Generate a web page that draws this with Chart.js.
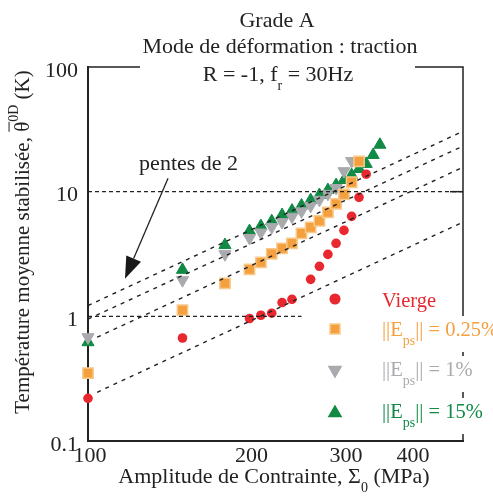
<!DOCTYPE html>
<html><head><meta charset="utf-8">
<script src="https://cdn.jsdelivr.net/npm/chart.js"></script>
<style>html,body{margin:0;padding:0;background:#fff;} #wrap{width:493px;height:503px;position:relative;}</style>
</head><body><div id="wrap"><canvas id="c" width="493" height="503"></canvas></div>
<script>
// ---- data ----
const vierge_x = [100,150,200,210,220,230,240,260,270,280,290,300,310,320,330];
const vierge_y = [0.22,0.67,0.96,1.02,1.06,1.29,1.37,1.98,2.52,3.14,3.85,4.89,6.34,9.0,13.8];
const e025_x = [100,150,180,200,210,220,230,240,250,260,270,280,290,300,310,320];
const e025_y = [0.35,1.12,1.84,2.38,2.71,3.17,3.51,3.85,4.63,5.17,5.83,6.82,7.99,9.51,11.9,17.5];
const e1_x = [100,150,180,200,210,220,230,240,250,260,270,280,290,300,310];
const e1_y = [0.68,1.95,3.15,4.25,4.7,5.2,5.7,6.3,6.95,7.7,8.6,9.6,10.7,14.6,17.6];
const e15_x = [100,150,180,200,210,220,230,240,250,260,270,280,290,300,310,320,330,340,350];
const e15_y = [0.62,2.36,3.73,4.83,5.3,5.8,6.5,7.05,7.75,8.55,9.4,10.3,11.3,12.4,13.6,15.2,16.7,19.7,23.8];
// slope-2 guide lines, endpoints [x, y]
const guideA = [[100,1.22],[500,30.5]];
const guideB = [[100,0.95],[500,23.2]];
const guideC = [[104,0.68],[500,15.7]];
const guideD = [[104,0.246],[500,5.7]];
const hLine10 = [[100,10],[500,10]];
const hLine1 = [[100,1],[250,1]];
const xTicks = [100,200,300,400];
const yTicks = [0.1,1,10,100];
const xRange = [100,500];
const yRange = [0.1,100];
// annotation anchors in data coords
const noteText = 'pentes de 2';
const notePos = [154,14.8];
const arrowFrom = [141,12.8];
const arrowTo = [117.2,2.0];

const RED='#e8282e', ORANGE='#f4a03f', GREY='#a8aaad', GREEN='#118a45';
const SERIF='"Liberation Serif","DejaVu Serif",serif';

function pts(xs, ys){ return xs.map((x,i)=>({x:x,y:ys[i]})); }
function seg(a){ return a.map(p=>({x:p[0],y:p[1]})); }

function guide(a, dash, w){
  return {type:'line', data:seg(a), borderColor:'#222', borderWidth:w||1.4, borderDash:dash||[4,5],
          pointRadius:0, showLine:true, fill:false, tension:0};
}

function drawRich(ctx, parts, x, y, size, align, color){
  let total=0;
  const ms = parts.map(p=>{
    const fs = p.sub||p.sup ? 14 : size;
    ctx.font = fs+'px '+SERIF;
    const w = ctx.measureText(p.t).width;
    total += w; return {p:p, fs:fs, w:w};
  });
  let cx = align==='center' ? x-total/2 : (align==='right'? x-total : x);
  ctx.fillStyle=color; ctx.strokeStyle=color;
  ctx.textAlign='left'; ctx.textBaseline='alphabetic';
  ms.forEach(m=>{
    ctx.font = m.fs+'px '+SERIF;
    const dy = m.p.sub ? 9 : (m.p.sup ? -11 : 0);
    ctx.fillText(m.p.t, cx, y+dy);
    if(m.p.over){ ctx.lineWidth=1; ctx.beginPath(); ctx.moveTo(cx, y-m.fs*0.95); ctx.lineTo(cx+m.w, y-m.fs*0.95); ctx.stroke(); }
    cx += m.w;
  });
}

const decor = {
  id:'decor',
  afterDraw(chart){
    const ctx=chart.ctx, a=chart.chartArea, xs=chart.scales.x, ys=chart.scales.y;
    ctx.save();
    // frame (top and right)
    ctx.strokeStyle='#222'; ctx.lineWidth=1.5;
    ctx.beginPath(); ctx.moveTo(a.left,a.top); ctx.lineTo(a.left+52,a.top);
    ctx.moveTo(a.right-48,a.top); ctx.lineTo(a.right,a.top); ctx.lineTo(a.right,a.bottom); ctx.stroke();
    // right tick at 10
    ctx.beginPath(); ctx.moveTo(a.right-13, ys.getPixelForValue(10)); ctx.lineTo(a.right, ys.getPixelForValue(10)); ctx.stroke();
    // titles
    drawRich(ctx,[{t:'Grade A'}], 277, 27, 22, 'center', '#222');
    drawRich(ctx,[{t:'Mode de déformation : traction'}], 280, 53, 22, 'center', '#222');
    drawRich(ctx,[{t:'R = -1, f'},{t:'r',sub:true},{t:' = 30Hz'}], 278, 81, 22, 'center', '#222');
    // x title
    drawRich(ctx,[{t:'Amplitude de Contrainte, Σ'},{t:'0',sub:true},{t:' (MPa)'}], 274, 483, 22, 'center', '#222');
    // y title rotated
    ctx.save(); ctx.translate(29, 242); ctx.rotate(-Math.PI/2);
    drawRich(ctx,[{t:'Température moyenne stabilisée, '},{t:'θ',over:true},{t:'0D',sup:true},{t:' (K)'}], 0, 0, 21, 'center', '#222');
    ctx.restore();
    // note + arrow
    const nx=xs.getPixelForValue(notePos[0]), ny=ys.getPixelForValue(notePos[1]);
    drawRich(ctx,[{t:noteText}], nx, ny, 22, 'center', '#222');
    const fx=xs.getPixelForValue(arrowFrom[0]), fy=ys.getPixelForValue(arrowFrom[1]);
    const tx=xs.getPixelForValue(arrowTo[0]), ty=ys.getPixelForValue(arrowTo[1]);
    const ang=Math.atan2(ty-fy, tx-fx), L=22, W=8;
    const bx=tx-L*Math.cos(ang), by=ty-L*Math.sin(ang);
    ctx.strokeStyle='#222'; ctx.lineWidth=1.3;
    ctx.beginPath(); ctx.moveTo(fx,fy); ctx.lineTo(bx,by); ctx.stroke();
    ctx.fillStyle='#1a1a1a'; ctx.beginPath(); ctx.moveTo(tx,ty);
    ctx.lineTo(bx+W*Math.sin(ang), by-W*Math.cos(ang));
    ctx.lineTo(bx-W*Math.sin(ang), by+W*Math.cos(ang)); ctx.closePath(); ctx.fill();
    // legend
    const mx=a.right-128, tx0=a.right-81;
    const items=[
      {style:'circle', color:RED, border:RED, y:299, parts:[{t:'Vierge'}], base:307},
      {style:'rect', color:ORANGE, border:'#f8c98c', y:329, parts:[{t:'||E'},{t:'ps',sub:true},{t:'|| = 0.25%'}], base:336},
      {style:'triangle', rot:180, color:GREY, border:GREY, y:370, parts:[{t:'||E'},{t:'ps',sub:true},{t:'|| = 1%'}], base:376},
      {style:'triangle', rot:0, color:GREEN, border:GREEN, y:413, parts:[{t:'||E'},{t:'ps',sub:true},{t:'|| = 15%'}], base:418}
    ];
    items.forEach((it,i)=>{
      if(i>0){ ctx.fillStyle='#fff'; ctx.fillRect(tx0-4, it.base-20, 493-tx0+4, 36); }
    });
    items.forEach(it=>{
      ctx.fillStyle=it.color; ctx.strokeStyle=it.border; ctx.lineWidth=1.5;
      Chart.helpers.drawPoint(ctx,{pointStyle:it.style, radius:it.style==='circle'?4.8:7, rotation:it.rot||0, borderWidth:1.5}, mx, it.y);
      drawRich(ctx,it.parts, tx0, it.base, 20.5, 'left', it.color);
    });
    ctx.restore();
  }
};

const tickFont = {family:'Liberation Serif', size:22};
new Chart(document.getElementById('c'), {
  type:'scatter',
  data:{datasets:[
    guide(guideA), guide(guideB), guide(guideC), guide(guideD),
    guide(hLine10,[4,3],1.2), guide(hLine1,[4,3],1.2),
    {label:'Vierge', data:pts(vierge_x,vierge_y), pointStyle:'circle', pointRadius:4.8, backgroundColor:RED, borderColor:RED, borderWidth:0, clip:false},
    {label:'0.25%', data:pts(e025_x,e025_y), pointStyle:'rect', pointRadius:7.3, backgroundColor:ORANGE, borderColor:'#f8c98c', borderWidth:1.5, clip:false},
    {label:'1%', data:pts(e1_x,e1_y), pointStyle:'triangle', rotation:180, pointRadius:7, backgroundColor:GREY, borderColor:GREY, borderWidth:1, clip:false},
    {label:'15%', data:pts(e15_x,e15_y), pointStyle:'triangle', pointRadius:7, backgroundColor:GREEN, borderColor:GREEN, borderWidth:1, clip:false}
  ]},
  options:{
    responsive:false, animation:false, devicePixelRatio:1,
    layout:{padding:{top:67, right:30, left:0, bottom:0}},
    plugins:{legend:{display:false}, tooltip:{enabled:false}},
    scales:{
      x:{type:'logarithmic', min:xRange[0], max:xRange[1],
         afterBuildTicks:s=>{ s.ticks = xTicks.map(v=>({value:v})); },
         afterFit:s=>{ s.height = 62; },
         ticks:{font:tickFont, color:'#222', padding:2, autoSkip:false, maxRotation:0, labelOffset:2, callback:v=>String(v)},
         grid:{display:false, drawTicks:false}, border:{display:true, color:'#222', width:2}},
      y:{type:'logarithmic', min:yRange[0], max:yRange[1],
         afterBuildTicks:s=>{ s.ticks = yTicks.map(v=>({value:v})); },
         afterFit:s=>{ s.width = 88; },
         ticks:{font:tickFont, color:'#222', padding:10, autoSkip:false, labelOffset:4, callback:v=>String(v)},
         grid:{display:false, drawTicks:false}, border:{display:true, color:'#222', width:2}}
    }
  },
  plugins:[decor]
});
</script></body></html>
